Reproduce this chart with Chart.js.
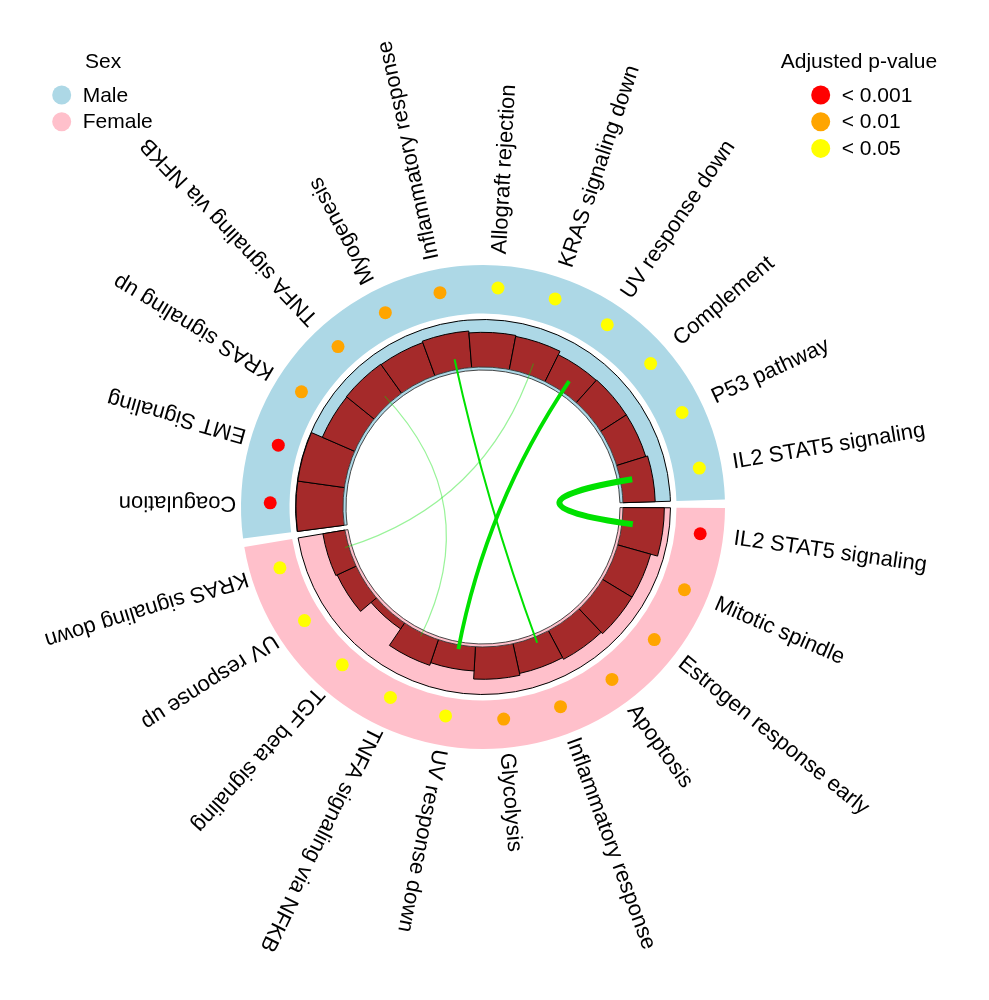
<!DOCTYPE html>
<html>
<head>
<meta charset="utf-8">
<script src="https://cdn.jsdelivr.net/npm/chart.js@4.4.1/dist/chart.umd.min.js"></script>
<style>
body { margin: 0; background: #fff; }
#wrap { position: relative; width: 989px; height: 1000px; }
#wrap canvas { position: absolute; left: 0; top: 0; }
</style>
</head>
<body>
<div id="wrap">
  <canvas id="ringChart" width="989" height="1000"></canvas>
  <canvas id="barChart" width="989" height="1000"></canvas>
  <canvas id="dotChart" width="989" height="1000"></canvas>
</div>
<script>
// male sector, clockwise from the left gap
var maleTerms = ['Coagulation', 'EMT Signaling', 'KRAS signaling up', 'TNFA signaling via NFKB',
  'Myogenesis', 'Inflammatory response', 'Allograft rejection', 'KRAS signaling down',
  'UV response down', 'Complement', 'P53 pathway', 'IL2 STAT5 signaling'];
var maleScore = [0.99, 0.99, 0.74, 0.75, 0.74, 0.77, 0.73, 0.71, 0.63, 0.64, 0.64, 0.68];
var maleSig = [0, 0, 1, 1, 1, 1, 2, 2, 2, 2, 2, 2];

// female sector, clockwise from the right gap
var femaleTerms = ['IL2 STAT5 signaling', 'Mitotic spindle', 'Estrogen response early', 'Apoptosis',
  'Inflammatory response', 'Glycolysis', 'UV response down', 'TNFA signaling via NFKB',
  'TGF beta signaling', 'UV response up', 'KRAS signaling down'];
var femaleScore = [0.87, 0.72, 0.72, 0.68, 0.64, 0.68, 0.51, 0.57, 0.15, 0.44, 0.47];
var femaleSig = [0, 1, 1, 1, 1, 1, 2, 2, 2, 2, 2];

// links between the same pathway in both sexes
var linkTerms = ['IL2 STAT5 signaling', 'UV response down', 'Inflammatory response',
  'KRAS signaling down', 'TNFA signaling via NFKB'];
var linkWidth = [6, 3.8, 2, 1.2, 1.2];
var linkAlpha = [1, 1, 1, 0.4, 0.4];

var sexNames = ['Male', 'Female'];
var sexColors = ['#ADD8E6', '#FFC0CB'];
var sigNames = ['< 0.001', '< 0.01', '< 0.05'];
var sigColors = ['#FF0000', '#FFA500', '#FFFF00'];

// layout
var PAD = { left: 0, right: 23, top: 14, bottom: 0 };
var R_BAND_OUT = 242, R_BAND_IN = 193.5, R_TRACK_OUT = 187.5, R_TRACK_IN = 140;
var R_DOT = 217.5, R_LINK = 149, R_LABEL = 250;
var START_DEG = 172.5, GAP_DEG = 2, TRACK_MAX = 1;
var BAR_COL = '#A52A2A', NONE = 'rgba(0,0,0,0)';
var FONT = '"Liberation Sans", Arial, sans-serif';

var nCat = maleTerms.length + femaleTerms.length;
var catDeg = (360 - 2 * GAP_DEG) / nCat;
var femaleStart = START_DEG + maleTerms.length * catDeg + GAP_DEG;
function rad(d) { return d * Math.PI / 180; }
function maleAngle(i) { return rad(START_DEG + (i + 0.5) * catDeg); }
function femaleAngle(i) { return rad(femaleStart + (i + 0.5) * catDeg); }

//
// OUTER BAND + TRACK (doughnut)
//
var gapUnits = GAP_DEG * nCat / (360 - 2 * GAP_DEG);
var sectorSizes = [maleTerms.length, gapUnits, femaleTerms.length, gapUnits];
var sectorColors = [sexColors[0], NONE, sexColors[1], NONE];
new Chart('ringChart', {
    type: 'doughnut',
    data: {
        labels: ['Male', '', 'Female', ''],
        datasets: [{
                data: sectorSizes, backgroundColor: sectorColors, borderWidth: 0,
                weight: R_BAND_OUT - R_BAND_IN
            }, {
                data: sectorSizes, backgroundColor: NONE, borderWidth: 0,
                weight: R_BAND_IN - R_TRACK_OUT
            }, {
                data: sectorSizes, backgroundColor: sectorColors,
                borderColor: ['#000', NONE, '#000', NONE], borderWidth: [1, 0, 1, 0],
                weight: R_TRACK_OUT - R_TRACK_IN
            }]
    },
    options: {
        responsive: false,
        animation: false,
        devicePixelRatio: 1,
        events: [],
        layout: { padding: PAD },
        rotation: START_DEG + 90,
        radius: R_BAND_OUT,
        cutout: (R_TRACK_IN / R_BAND_OUT * 100) + '%',
        plugins: { legend: { display: false }, tooltip: { enabled: false } }
    }
});

//
// BARS (polar area, base pushed out to the track)
//
var barValues = maleScore.concat([0], femaleScore, [0]);
var barLabels = maleTerms.concat([''], femaleTerms, ['']);
var isGap = barValues.map(function (v, i) { return i === maleTerms.length || i === barValues.length - 1; });
var barAngles = isGap.map(function (g) { return g ? GAP_DEG : catDeg; });
var k = (R_TRACK_OUT - R_TRACK_IN) / TRACK_MAX;
var drawArea = Math.floor(Math.min(989 - PAD.left - PAD.right, 1000 - PAD.top - PAD.bottom) / 2);
var rMin = -R_TRACK_IN / k;
var rMax = rMin + drawArea / k;

var innerDisk = {
    id: 'innerDisk',
    afterDatasetsDraw: function (chart) {
        var r = chart.scales.r;
        var ctx = chart.ctx;
        var cx = r.xCenter, cy = r.yCenter;
        var rin = r.getDistanceFromCenterForValue(0);
        ctx.save();
        ctx.fillStyle = '#fff';
        ctx.beginPath();
        ctx.arc(cx, cy, rin, 0, 2 * Math.PI);
        ctx.fill();
        var spans = [[START_DEG, START_DEG + maleTerms.length * catDeg],
            [femaleStart, femaleStart + femaleTerms.length * catDeg]];
        spans.forEach(function (s, i) {
            ctx.beginPath();
            ctx.arc(cx, cy, rin, rad(s[0]), rad(s[1]));
            ctx.arc(cx, cy, rin - 3, rad(s[1]), rad(s[0]), true);
            ctx.closePath();
            ctx.fillStyle = sexColors[i];
            ctx.fill();
            ctx.lineWidth = 0.9;
            ctx.strokeStyle = '#333';
            ctx.stroke();
        });
        ctx.restore();
    }
};

new Chart('barChart', {
    type: 'polarArea',
    data: {
        labels: barLabels,
        datasets: [{
                data: barValues,
                angle: function (c) { return barAngles[c.dataIndex]; },
                backgroundColor: isGap.map(function (g) { return g ? NONE : BAR_COL; }),
                borderColor: '#000',
                borderWidth: isGap.map(function (g) { return g ? 0 : 1; })
            }]
    },
    options: {
        responsive: false,
        animation: false,
        devicePixelRatio: 1,
        events: [],
        layout: { padding: PAD },
        scales: {
            r: {
                display: false, min: rMin, max: rMax, startAngle: START_DEG + 90,
                ticks: { display: false }, grid: { display: false },
                angleLines: { display: false }, pointLabels: { display: false }
            }
        },
        plugins: { legend: { display: false }, tooltip: { enabled: false } }
    },
    plugins: [innerDisk]
});

//
// DOTS, LINKS, LABELS, LEGENDS (scatter, 1 unit = 1 px from centre)
//
var dots = [], dotColors = [];
maleTerms.forEach(function (t, i) {
    var a = maleAngle(i);
    dots.push({ x: R_DOT * Math.cos(a), y: R_DOT * Math.sin(a) });
    dotColors.push(sigColors[maleSig[i]]);
});
femaleTerms.forEach(function (t, i) {
    var a = femaleAngle(i);
    dots.push({ x: R_DOT * Math.cos(a), y: R_DOT * Math.sin(a) });
    dotColors.push(sigColors[femaleSig[i]]);
});
var halfW = (989 - PAD.left - PAD.right) / 2, halfH = (1000 - PAD.top - PAD.bottom) / 2;

var circleText = {
    id: 'circleText',
    beforeDatasetsDraw: function (chart) {
        var ctx = chart.ctx, sx = chart.scales.x, sy = chart.scales.y;
        var cx = sx.getPixelForValue(0), cy = sy.getPixelForValue(0);
        ctx.save();
        ctx.lineCap = 'butt';
        linkTerms.forEach(function (term, i) {
            var a1 = maleAngle(maleTerms.indexOf(term));
            var a2 = femaleAngle(femaleTerms.indexOf(term));
            ctx.beginPath();
            ctx.moveTo(sx.getPixelForValue(R_LINK * Math.cos(a1)), sy.getPixelForValue(R_LINK * Math.sin(a1)));
            ctx.quadraticCurveTo(cx, cy, sx.getPixelForValue(R_LINK * Math.cos(a2)), sy.getPixelForValue(R_LINK * Math.sin(a2)));
            ctx.lineWidth = linkWidth[i];
            ctx.strokeStyle = 'rgba(0,225,0,' + linkAlpha[i] + ')';
            ctx.stroke();
        });
        ctx.restore();
    },
    afterDraw: function (chart) {
        var ctx = chart.ctx, sx = chart.scales.x, sy = chart.scales.y;
        var cx = sx.getPixelForValue(0), cy = sy.getPixelForValue(0);
        ctx.save();
        ctx.fillStyle = '#000';
        ctx.font = '22px ' + FONT;
        ctx.textAlign = 'left';
        ctx.textBaseline = 'middle';
        function label(text, a) {
            ctx.save();
            ctx.translate(cx, cy);
            ctx.rotate(a);
            ctx.fillText(text, R_LABEL, 0);
            ctx.restore();
        }
        maleTerms.forEach(function (t, i) { label(t, maleAngle(i)); });
        femaleTerms.forEach(function (t, i) { label(t, femaleAngle(i)); });

        // legends
        ctx.font = '21px ' + FONT;
        function legend(x, y, title, names, colors, tx) {
            ctx.fillStyle = '#000';
            ctx.fillText(title, tx, y);
            names.forEach(function (n, i) {
                var yy = y + 33 + i * 26.7;
                ctx.beginPath();
                ctx.arc(x, yy, 9.5, 0, 2 * Math.PI);
                ctx.fillStyle = colors[i];
                ctx.fill();
                ctx.fillStyle = '#000';
                ctx.fillText(n, x + 21, yy + 1);
            });
        }
        legend(61.7, 62, 'Sex', sexNames, sexColors, 85);
        legend(820.7, 62, 'Adjusted p-value', sigNames, sigColors, 780.7);
        ctx.restore();
    }
};

new Chart('dotChart', {
    type: 'scatter',
    data: {
        datasets: [{
                data: dots,
                backgroundColor: dotColors,
                borderWidth: 0,
                pointRadius: 6.5,
                pointHoverRadius: 6.5
            }]
    },
    options: {
        responsive: false,
        animation: false,
        devicePixelRatio: 1,
        events: [],
        layout: { padding: PAD },
        scales: {
            x: { type: 'linear', display: false, min: -halfW, max: halfW },
            y: { type: 'linear', display: false, min: -halfH, max: halfH, reverse: true }
        },
        plugins: { legend: { display: false }, tooltip: { enabled: false } }
    },
    plugins: [circleText]
});
</script>
</body>
</html>
